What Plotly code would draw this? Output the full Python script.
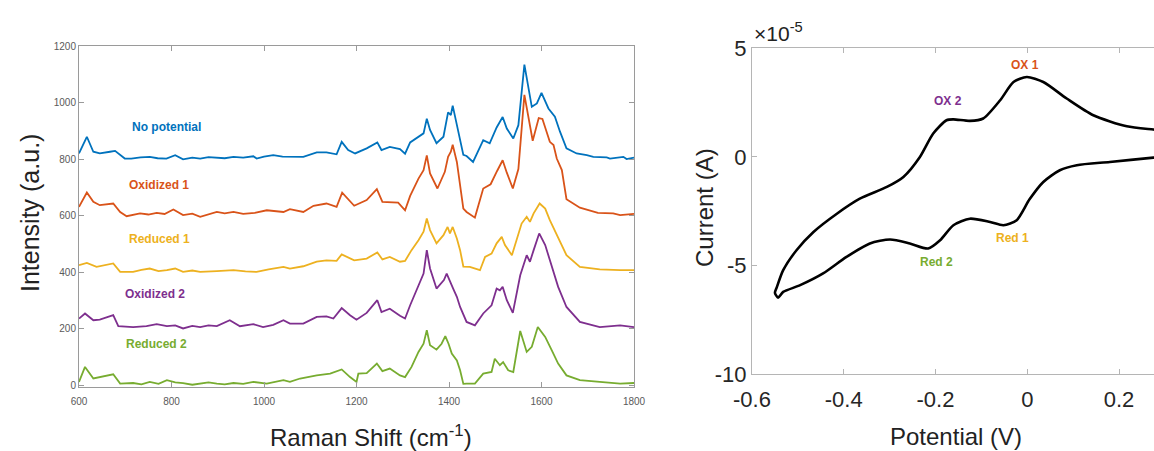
import plotly.graph_objects as go

# ---------------- Raman spectra (left panel) ----------------
x_nopot = [600, 617, 631, 645, 667, 678, 699, 713, 733, 753, 770, 789, 808, 825, 845, 862, 880, 898,
           915, 934, 955, 977, 984, 1000, 1020, 1040,
           1056, 1085, 1114, 1135, 1157, 1168, 1182, 1197, 1222, 1245, 1254, 1272, 1294, 1305, 1316,
           1334, 1345, 1352, 1359, 1373, 1388, 1398, 1404, 1408, 1417, 1424, 1431, 1438, 1452, 1474,
           1488, 1503, 1516, 1525, 1539, 1550, 1563, 1579, 1590, 1600, 1615, 1629, 1640, 1654, 1676,
           1698, 1712, 1741, 1748, 1777, 1784, 1800]
y_nopot = [820, 879, 826, 820, 826, 829, 802, 802, 806, 808, 803, 802, 814, 799, 805, 802, 807, 806,
           803, 808, 805, 810, 802, 809, 814, 809,
           808, 808, 824, 824, 817, 861, 832, 820, 838, 859, 832, 843, 835, 819, 859,
           879, 891, 943, 903, 856, 879, 965, 956, 989, 920, 867, 815, 811, 790, 867,
           856, 912, 949, 908, 873, 920, 1134, 985, 997, 1034, 979, 950, 897, 838, 820,
           814, 808, 806, 802, 808, 800, 805]

x_ox1 = [600, 617, 631, 645, 674, 689, 703, 732, 750, 768, 785, 804, 825, 845, 862, 880, 898, 915,
         934, 955, 980, 1006, 1042, 1056,
         1085, 1107, 1135, 1157, 1169, 1195, 1222, 1244, 1256, 1290, 1305, 1316, 1334, 1345, 1352,
         1359, 1375, 1391, 1398, 1404, 1408, 1417, 1424, 1431, 1438, 1456, 1474, 1490, 1504, 1516,
         1525, 1538, 1550, 1563, 1581, 1594, 1602, 1618, 1626, 1633, 1644, 1654, 1683, 1722, 1755,
         1770, 1800]
y_ox1 = [631, 682, 649, 637, 643, 613, 598, 608, 604, 610, 606, 622, 602, 607, 596, 604, 613, 608,
         613, 606, 610, 619, 613, 623,
         613, 635, 643, 631, 681, 635, 655, 694, 649, 646, 619, 670, 731, 761, 813,
         749, 696, 755, 808, 826, 851, 790, 702, 625, 613, 593, 696, 711, 758, 796,
         752, 696, 765, 1027, 865, 945, 942, 861, 850, 802, 761, 658, 628, 610, 608,
         602, 606]

x_red1 = [600, 617, 638, 674, 689, 717, 735, 753, 772, 790, 808, 825, 845, 862, 898, 934, 960, 984,
          1010, 1042, 1056, 1085, 1114,
          1135, 1157, 1168, 1195, 1222, 1245, 1256, 1272, 1294, 1305, 1319, 1334, 1345, 1352, 1359,
          1373, 1388, 1397, 1402, 1408, 1417, 1424, 1431, 1445, 1467, 1478, 1492, 1503, 1514, 1521,
          1536, 1557, 1568, 1575, 1583, 1596, 1608, 1618, 1636, 1654, 1683, 1726, 1770, 1800]
y_red1 = [425, 433, 419, 431, 401, 401, 408, 413, 404, 407, 413, 401, 406, 401, 404, 407, 403, 401,
          410, 419, 413, 421, 437,
          442, 440, 463, 442, 448, 470, 445, 454, 437, 440, 478, 513, 543, 590, 549,
          502, 531, 560, 537, 560, 519, 478, 420, 419, 407, 454, 466, 502, 525, 496,
          460, 572, 596, 578, 608, 643, 625, 584, 525, 460, 419, 410, 407, 407]

x_ox2 = [600, 613, 631, 645, 674, 685, 717, 746, 768, 790, 808, 825, 845, 862, 880, 898, 926, 948,
         977, 998, 1020,
         1042, 1056, 1085, 1114, 1135, 1150, 1168, 1186, 1200, 1222, 1245, 1254, 1272, 1294, 1305,
         1316, 1334, 1345, 1352, 1359, 1373, 1389, 1395, 1402, 1409, 1417, 1424, 1438, 1456, 1474,
         1492, 1503, 1510, 1516, 1525, 1538, 1554, 1568, 1575, 1583, 1595, 1608, 1622, 1636, 1654,
         1683, 1726, 1770, 1800]
y_ox2 = [236, 254, 230, 232, 248, 209, 206, 209, 216, 209, 212, 201, 210, 206, 212, 209, 230, 209,
         216, 206, 214,
         230, 218, 218, 242, 244, 236, 273, 248, 232, 256, 301, 259, 271, 246, 236,
         283, 354, 395, 478, 413, 342, 372, 395, 366, 342, 313, 277, 224, 212, 254,
         283, 342, 336, 348, 301, 256, 389, 460, 437, 478, 537, 496, 419, 348, 277,
         224, 206, 212, 206]

x_red2 = [600, 613, 631, 645, 674, 689, 717, 735, 753, 772, 790, 808, 825, 845, 862, 880, 898, 915,
          934, 955, 977, 1006, 1042, 1056,
          1078, 1114, 1143, 1168, 1186, 1200, 1204, 1222, 1244, 1256, 1272, 1294, 1305, 1319, 1334,
          1345, 1352, 1359, 1373, 1384, 1392, 1399, 1406, 1417, 1424, 1431, 1438, 1456, 1474, 1492,
          1499, 1510, 1517, 1528, 1539, 1554, 1568, 1579, 1592, 1608, 1622, 1636, 1654, 1683, 1726,
          1770, 1800]
y_red2 = [12, 65, 24, 29, 39, 6, 8, 3, 12, 5, 18, 10, 8, 2, 6, 10, 6, 3,
          8, 5, 12, 6, 18, 12,
          24, 35, 41, 56, 29, 12, 41, 43, 77, 50, 59, 35, 29, 65, 118,
          147, 195, 142, 126, 147, 174, 147, 112, 88, 53, 5, 6, 6, 41, 47,
          94, 71, 82, 53, 47, 192, 118, 136, 206, 171, 124, 77, 35, 18, 12,
          6, 8]

spec_names = ["No potential", "Oxidized 1", "Reduced 1", "Oxidized 2", "Reduced 2"]
spec_colors = ["#0072BD", "#D95319", "#EDB120", "#7E2F8E", "#77AC30"]
label_x = [710, 704, 704, 695, 697]
label_y = [913, 708, 517, 322, 145]

raman_ticks = [600, 800, 1000, 1200, 1400, 1600, 1800]
intensity_ticks = [0, 200, 400, 600, 800, 1000, 1200]

# ---------------- Cyclic voltammogram (right panel) ----------------
potential = [-0.543, -0.550, -0.546, -0.532, -0.503, -0.466, -0.415, -0.365, -0.306, -0.270, -0.234,
             -0.205, -0.176, -0.161, -0.125, -0.096, -0.059, -0.030, -0.001, 0.035, 0.086, 0.144,
             0.217, 0.275, 0.300,
             0.300, 0.275, 0.180, 0.108, 0.071, 0.035, 0.005, -0.023, -0.052, -0.081, -0.125, -0.161,
             -0.190, -0.216, -0.256, -0.299, -0.343, -0.394, -0.445, -0.495, -0.532, -0.543]
current_e5 = [-6.47, -6.25, -6.00, -5.21, -4.29, -3.45, -2.61, -1.92, -1.38, -0.92, 0.00,
              1.08, 1.69, 1.73, 1.66, 1.77, 2.61, 3.45, 3.68, 3.45, 2.69, 1.92,
              1.41, 1.26, 1.20,
              0.02, -0.03, -0.23, -0.38, -0.61, -1.15, -1.95, -2.91, -3.14, -2.99, -2.84, -3.14,
              -3.83, -4.21, -3.98, -3.80, -3.98, -4.60, -5.36, -5.90, -6.21, -6.47]

cv_labels = ["OX 1", "OX 2", "Red 1", "Red 2"]
cv_label_colors = ["#D95319", "#7E2F8E", "#EDB120", "#77AC30"]
cv_label_x = [-0.005, -0.173, -0.033, -0.197]
cv_label_y = [4.22, 2.56, -3.74, -4.84]

pot_tickvals = [-0.6, -0.4, -0.2, 0, 0.2]
pot_ticktext = ["-0.6", "-0.4", "-0.2", "0", "0.2"]
cur_tickvals = [-10, -5, 0, 5]
cur_ticktext = ["-10", "-5", "0", "5"]

FONT = "Liberation Sans, Arial, Helvetica, sans-serif"
W, H = 1154, 451

fig = go.Figure()

xs = [x_nopot, x_ox1, x_red1, x_ox2, x_red2]
ys = [y_nopot, y_ox1, y_red1, y_ox2, y_red2]
for xv, yv, nm, col in zip(xs, ys, spec_names, spec_colors):
    fig.add_trace(go.Scatter(x=xv, y=yv, mode="lines", name=nm,
                             line=dict(color=col, width=1.8), xaxis="x", yaxis="y"))

fig.add_trace(go.Scatter(x=potential, y=current_e5, mode="lines", name="CV",
                         line=dict(color="black", width=2.6, shape="spline", smoothing=0.7),
                         xaxis="x2", yaxis="y2"))

annotations = []
for nm, col, lx, ly in zip(spec_names, spec_colors, label_x, label_y):
    annotations.append(dict(x=lx, y=ly, xref="x", yref="y", text="<b>" + nm + "</b>",
                            showarrow=False, xanchor="left", yanchor="middle",
                            font=dict(family=FONT, size=12, color=col)))
for nm, col, lx, ly in zip(cv_labels, cv_label_colors, cv_label_x, cv_label_y):
    annotations.append(dict(x=lx, y=ly, xref="x2", yref="y2", text="<b>" + nm + "</b>",
                            showarrow=False, xanchor="center", yanchor="middle",
                            font=dict(family=FONT, size=12, color=col)))

annotations += [
    dict(x=30 / W, y=1 - 213 / H, xref="paper", yref="paper", text="Intensity (a.u.)",
         textangle=-90, showarrow=False, xanchor="center", yanchor="middle",
         font=dict(family=FONT, size=25, color="#222")),
    dict(x=371 / W, y=1 - 436 / H, xref="paper", yref="paper", text="Raman Shift (cm<sup>-1</sup>)",
         showarrow=False, xanchor="center", yanchor="middle",
         font=dict(family=FONT, size=24, color="#222")),
    dict(x=704 / W, y=1 - 208 / H, xref="paper", yref="paper", text="Current (A)",
         textangle=-90, showarrow=False, xanchor="center", yanchor="middle",
         font=dict(family=FONT, size=24, color="#222")),
    dict(x=956 / W, y=1 - 436 / H, xref="paper", yref="paper", text="Potential (V)",
         showarrow=False, xanchor="center", yanchor="middle",
         font=dict(family=FONT, size=24, color="#222")),
    dict(x=752 / W, y=1 - 32 / H, xref="paper", yref="paper", text="×10<sup>-5</sup>",
         showarrow=False, xanchor="left", yanchor="middle",
         font=dict(family=FONT, size=21, color="#222")),
]

common = dict(showgrid=False, zeroline=False, automargin=False, showline=True, linewidth=1,
              ticks="inside", ticklen=5)

fig.update_layout(
    template="none",
    width=W, height=H,
    margin=dict(l=0, r=0, t=0, b=0, pad=0, autoexpand=False),
    paper_bgcolor="white", plot_bgcolor="white",
    showlegend=False,
    font=dict(family=FONT),
    annotations=annotations,
    xaxis=dict(domain=[79 / W, 634 / W], range=[600, 1800], tickvals=raman_ticks,
               tickcolor="#9a9a9a", linecolor="#9a9a9a", mirror="ticks", ticklabelstandoff=5,
               tickfont=dict(size=10, color="#5a5a5a"), anchor="y", **common),
    yaxis=dict(domain=[1 - 386.7 / H, 1 - 46 / H], range=[-5, 1200], tickvals=intensity_ticks,
               tickcolor="#9a9a9a", linecolor="#9a9a9a", mirror="ticks",
               tickfont=dict(size=10, color="#5a5a5a"), anchor="x", **common),
    xaxis2=dict(domain=[752 / W, 1.0], range=[-0.6, 0.2763], tickvals=pot_tickvals,
                ticktext=pot_ticktext, tickcolor="#b5b5b5", linecolor="#b5b5b5", mirror="ticks",
                ticklabelstandoff=5,
                tickfont=dict(size=22, color="#262626"), anchor="y2", **common),
    yaxis2=dict(domain=[1 - 374.3 / H, 1 - 48.3 / H], range=[-10, 5], tickvals=cur_tickvals,
                ticktext=cur_ticktext, tickcolor="#b5b5b5", linecolor="#b5b5b5", mirror=False,
                tickfont=dict(size=22, color="#262626"), anchor="x2", **common),
)

fig.write_html("out.html")
